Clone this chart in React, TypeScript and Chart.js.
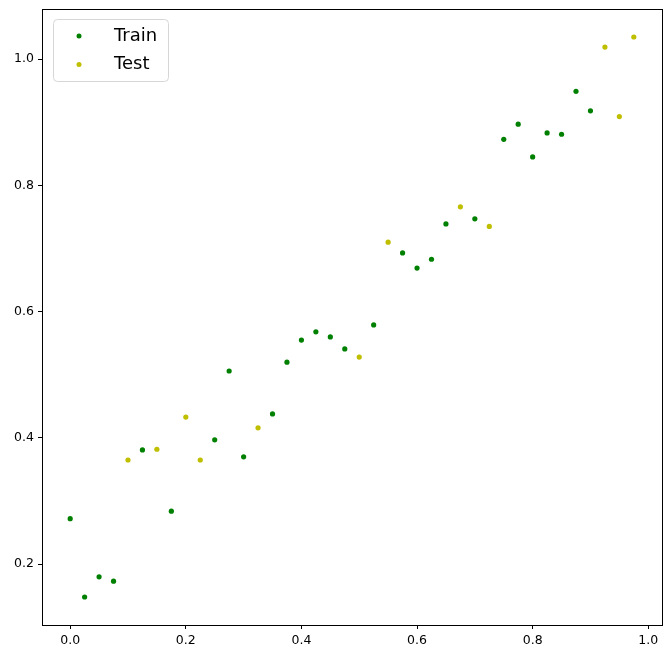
import React, { useEffect, useRef } from "react";
import { Chart, registerables } from "chart.js";

Chart.register(...registerables);

const trainX = [0, 0.025, 0.05, 0.075, 0.125, 0.175, 0.25, 0.275, 0.3, 0.35, 0.375, 0.4, 0.425, 0.45, 0.475, 0.525, 0.575, 0.6, 0.625, 0.65, 0.7, 0.75, 0.775, 0.8, 0.825, 0.85, 0.875, 0.9];
const trainY = [0.272, 0.148, 0.180, 0.173, 0.381, 0.284, 0.397, 0.506, 0.370, 0.438, 0.520, 0.555, 0.568, 0.560, 0.541, 0.579, 0.693, 0.669, 0.683, 0.739, 0.747, 0.873, 0.897, 0.845, 0.883, 0.881, 0.949, 0.918];
const testX = [0.1, 0.15, 0.2, 0.225, 0.325, 0.5, 0.55, 0.675, 0.725, 0.925, 0.95, 0.975];
const testY = [0.365, 0.382, 0.433, 0.365, 0.416, 0.528, 0.710, 0.766, 0.735, 1.019, 0.909, 1.035];

const xTicks = [0, 0.2, 0.4, 0.6, 0.8, 1.0];
const yTicks = [0.2, 0.4, 0.6, 0.8, 1.0];
const seriesLabels = ["Train", "Test"];
const seriesColors = ["#008000", "#bfbf00"];

const FONT = "'DejaVu Sans', sans-serif";

function padRange(vals: number[]) {
  const mn = Math.min(...vals);
  const mx = Math.max(...vals);
  const m = (mx - mn) * 0.05;
  return [mn - m, mx + m];
}

const framePlugin = {
  id: "frame",
  afterDraw(chart: any) {
    const { ctx, chartArea } = chart;
    ctx.save();
    ctx.strokeStyle = "#000";
    ctx.lineWidth = 1;
    ctx.strokeRect(
      Math.round(chartArea.left) + 0.5,
      Math.round(chartArea.top) + 0.5,
      Math.round(chartArea.right - chartArea.left),
      Math.round(chartArea.bottom - chartArea.top)
    );
    // legend
    const bx = 53.5, by = 19.5, bw = 115, bh = 62, r = 4;
    ctx.beginPath();
    ctx.moveTo(bx + r, by);
    ctx.lineTo(bx + bw - r, by);
    ctx.quadraticCurveTo(bx + bw, by, bx + bw, by + r);
    ctx.lineTo(bx + bw, by + bh - r);
    ctx.quadraticCurveTo(bx + bw, by + bh, bx + bw - r, by + bh);
    ctx.lineTo(bx + r, by + bh);
    ctx.quadraticCurveTo(bx, by + bh, bx, by + bh - r);
    ctx.lineTo(bx, by + r);
    ctx.quadraticCurveTo(bx, by, bx + r, by);
    ctx.closePath();
    ctx.fillStyle = "rgba(255,255,255,0.8)";
    ctx.fill();
    ctx.strokeStyle = "#d6d6d6";
    ctx.stroke();
    chart.data.datasets.forEach((ds: any, i: number) => {
      const cy = 36 + i * 28.5;
      ctx.beginPath();
      ctx.arc(79, cy, 2.5, 0, Math.PI * 2);
      ctx.fillStyle = ds.backgroundColor;
      ctx.fill();
      ctx.fillStyle = "#000";
      ctx.font = `18px ${FONT}`;
      ctx.textBaseline = "middle";
      ctx.textAlign = "left";
      ctx.fillText(ds.label, 114, cy);
    });
    ctx.restore();
  },
};

export default function App() {
  const ref = useRef<HTMLCanvasElement | null>(null);
  useEffect(() => {
    if (!ref.current) return;
    const [xmin, xmax] = padRange([...trainX, ...testX]);
    const [ymin, ymax] = padRange([...trainY, ...testY]);
    const tickFont = { family: FONT, size: 12.5 };
    const chart = new Chart(ref.current, {
      type: "scatter",
      data: {
        datasets: [
          {
            label: seriesLabels[0],
            data: trainX.map((x, i) => ({ x, y: trainY[i] })),
            backgroundColor: seriesColors[0],
            borderWidth: 0,
            pointRadius: 2.6,
          },
          {
            label: seriesLabels[1],
            data: testX.map((x, i) => ({ x, y: testY[i] })),
            backgroundColor: seriesColors[1],
            borderWidth: 0,
            pointRadius: 2.6,
          },
        ],
      },
      options: {
        responsive: false,
        animation: false,
        layout: { padding: { left: 0, top: 9, right: 9, bottom: 0 } },
        plugins: { legend: { display: false }, tooltip: { enabled: false } },
        scales: {
          x: {
            type: "linear",
            min: xmin,
            max: xmax,
            afterBuildTicks: (s: any) => {
              s.ticks = xTicks.map((v) => ({ value: v }));
            },
            afterFit: (s: any) => {
              s.height = 34;
              s.paddingLeft = 0;
              s.paddingRight = 0;
            },
            grid: { drawOnChartArea: false, drawTicks: true, tickLength: 4, tickColor: "#000" },
            border: { display: true, color: "#000" },
            ticks: {
              color: "#000",
              font: tickFont,
              padding: 4,
              maxRotation: 0,
              callback: (v: any) => Number(v).toFixed(1),
            },
          },
          y: {
            type: "linear",
            min: ymin,
            max: ymax,
            afterBuildTicks: (s: any) => {
              s.ticks = yTicks.map((v) => ({ value: v }));
            },
            afterFit: (s: any) => {
              s.width = 42;
              s.paddingTop = 0;
              s.paddingBottom = 0;
            },
            grid: { drawOnChartArea: false, drawTicks: true, tickLength: 4, tickColor: "#000" },
            border: { display: true, color: "#000" },
            ticks: {
              color: "#000",
              font: tickFont,
              padding: 4,
              callback: (v: any) => Number(v).toFixed(1),
            },
          },
        },
      },
      plugins: [framePlugin],
    });
    return () => chart.destroy();
  }, []);
  return (
    <div style={{ position: "fixed", left: 0, top: 0, width: 671, height: 659, background: "#fff" }}>
      <canvas ref={ref} width={671} height={659} style={{ display: "block" }} />
    </div>
  );
}
